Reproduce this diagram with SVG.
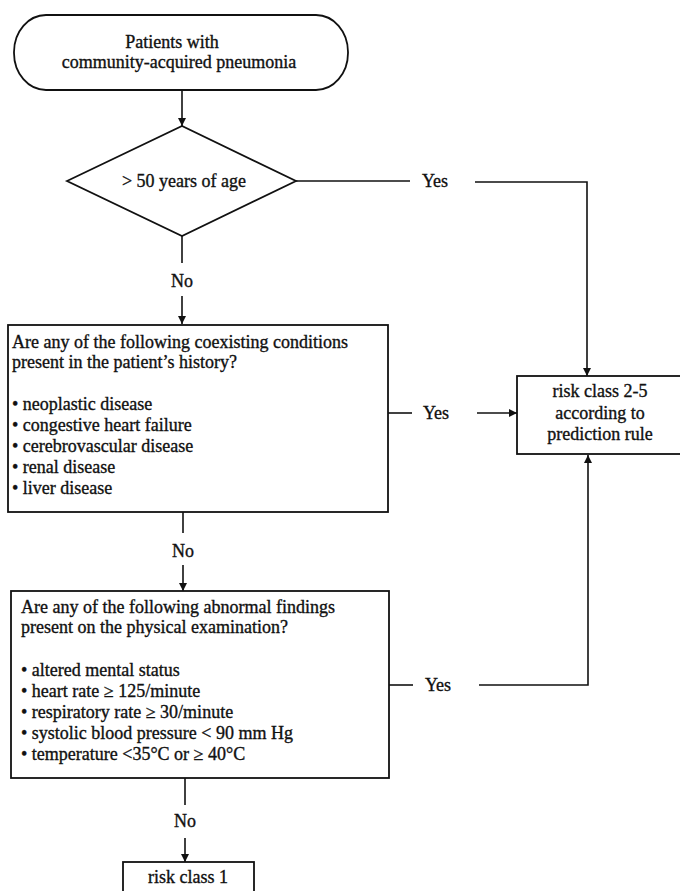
<svg xmlns="http://www.w3.org/2000/svg" width="680" height="891" viewBox="0 0 680 891">
<style>
  .shape { fill: #ffffff; stroke: #111111; stroke-width: 1.8; }
  .conn { fill: none; stroke: #111111; stroke-width: 1.6; }
  text { font-family: "Liberation Serif", "Times New Roman", serif; font-size: 18px; fill: #111111; stroke: #111111; stroke-width: 0.35; }
  .c { text-anchor: middle; }
</style>
<defs>
  <marker id="arrow" viewBox="0 0 10 10" refX="10" refY="5" markerWidth="8" markerHeight="8" markerUnits="userSpaceOnUse" orient="auto">
    <path d="M0,0 L10,5 L0,10 z" fill="#111111"/>
  </marker>
</defs>
<rect width="680" height="891" fill="#ffffff"/>

<g id="connectors">
  <line class="conn" x1="182" y1="89" x2="182" y2="126" marker-end="url(#arrow)"/>
  <line class="conn" x1="296" y1="181" x2="410" y2="181"/>
  <polyline class="conn" points="475,182 587,182 587,376" marker-end="url(#arrow)"/>
  <line class="conn" x1="182" y1="236" x2="182" y2="263"/>
  <line class="conn" x1="182" y1="296" x2="182" y2="324" marker-end="url(#arrow)"/>
  <line class="conn" x1="388" y1="413" x2="412" y2="413"/>
  <line class="conn" x1="477" y1="413" x2="517" y2="413" marker-end="url(#arrow)"/>
  <line class="conn" x1="183" y1="512" x2="183" y2="533"/>
  <line class="conn" x1="183" y1="565" x2="183" y2="591" marker-end="url(#arrow)"/>
  <line class="conn" x1="389" y1="685" x2="413" y2="685"/>
  <polyline class="conn" points="479,685 588,685 588,455" marker-end="url(#arrow)"/>
  <line class="conn" x1="185" y1="778" x2="185" y2="805"/>
  <line class="conn" x1="185" y1="838" x2="185" y2="862" marker-end="url(#arrow)"/>
  <text x="435" y="187" class="c">Yes</text>
  <text x="182" y="287" class="c">No</text>
  <text x="436" y="419" class="c">Yes</text>
  <text x="183" y="557" class="c">No</text>
  <text x="438" y="691" class="c">Yes</text>
  <text x="185" y="827" class="c">No</text>
</g>

<g id="start">
  <rect class="shape" x="14" y="15" width="334" height="75" rx="32" ry="37"/>
  <text x="172" y="48" class="c">Patients with</text>
  <text x="179" y="68" class="c">community-acquired pneumonia</text>
</g>

<g id="age-decision">
  <polygon class="shape" points="67,181 182,126 296,181 182,236"/>
  <text x="184" y="187" class="c">&gt; 50 years of age</text>
</g>

<g id="coexisting-conditions">
  <rect class="shape" x="8" y="325" width="380" height="187"/>
  <text x="12" y="348">Are any of the following coexisting conditions</text>
  <text x="12" y="368">present in the patient’s history?</text>
  <text x="12" y="410">• neoplastic disease</text>
  <text x="12" y="431">• congestive heart failure</text>
  <text x="12" y="452">• cerebrovascular disease</text>
  <text x="12" y="473">• renal disease</text>
  <text x="12" y="494">• liver disease</text>
</g>

<g id="physical-findings">
  <rect class="shape" x="11" y="591" width="378" height="187"/>
  <text x="21" y="613">Are any of the following abnormal findings</text>
  <text x="21" y="633">present on the physical examination?</text>
  <text x="21" y="676">• altered mental status</text>
  <text x="21" y="697">• heart rate ≥ 125/minute</text>
  <text x="21" y="718">• respiratory rate ≥ 30/minute</text>
  <text x="21" y="739">• systolic blood pressure &lt; 90 mm Hg</text>
  <text x="21" y="760">• temperature &lt;35°C or ≥ 40°C</text>
</g>

<g id="risk-class-2-5">
  <rect class="shape" x="517" y="376" width="166" height="78"/>
  <text x="600" y="397" class="c">risk class 2-5</text>
  <text x="600" y="419" class="c">according to</text>
  <text x="600" y="440" class="c">prediction rule</text>
</g>

<g id="risk-class-1">
  <rect class="shape" x="123" y="862" width="131" height="40"/>
  <text x="188" y="883" class="c">risk class 1</text>
</g>
</svg>
